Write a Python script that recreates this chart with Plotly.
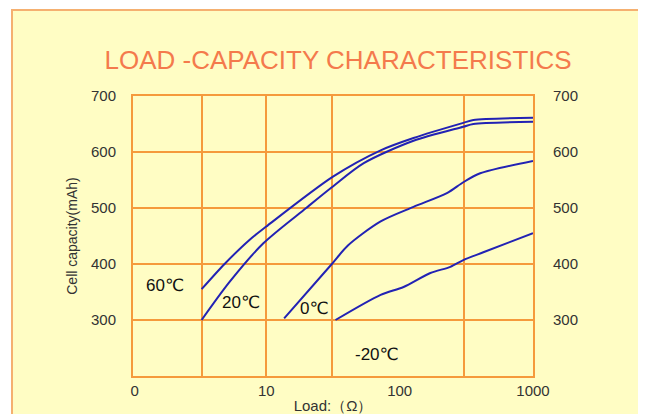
import math
import plotly.graph_objects as go

# ---- data ----
load_60 = [3.27, 4.86, 7.47, 10, 31.6, 72, 127, 300, 357, 1000]
cap_60 = [355, 400, 443, 467, 556, 603, 625, 652, 657, 661]

load_20 = [3.27, 5.3, 9.5, 19.9, 31, 53.8, 127, 300, 357, 1000]
cap_20 = [300, 368, 437, 500, 537, 580, 620, 645, 650, 654]

load_0 = [13.6, 31, 40.9, 72, 127, 228, 300, 402, 1000]
cap_0 = [303, 400, 433, 476, 502, 527, 546, 562, 584]

load_m20 = [33, 72, 107, 170, 240, 300, 424, 1000]
cap_m20 = [300, 345, 359, 384, 395, 407, 421, 455]

series_names = ["60℃", "20℃", "0℃", "-20℃"]
label_load = [1.21, 4.46, 17.3, 44.6]
label_cap = [362, 332, 321, 238]

x_tick_vals = [1.03, 10, 100, 1000]
x_tick_text = ["0", "10", "100", "1000"]
x_grid_vals = [3.27, 10, 31, 305]
y_tick_vals = [300, 400, 500, 600, 700]

BG = "#FFFDC4"
GRID = "#F59A3C"
LINE = "#2222B4"
FONT = "Liberation Sans Narrow, Liberation Sans, Arial, sans-serif"

fig = go.Figure()
for xs, ys, nm in zip([load_60, load_20, load_0, load_m20],
                      [cap_60, cap_20, cap_0, cap_m20], series_names):
    fig.add_trace(go.Scatter(x=xs, y=ys, mode="lines", name=nm,
                             line=dict(color=LINE, width=2, shape="spline", smoothing=0.8),
                             showlegend=False))

# invisible trace for the right y axis
fig.add_trace(go.Scatter(x=[10], y=[500], yaxis="y2", mode="markers",
                         marker=dict(opacity=0), showlegend=False, hoverinfo="skip"))
# invisible trace for the grid x axis
fig.add_trace(go.Scatter(x=[10], y=[500], xaxis="x2", mode="markers",
                         marker=dict(opacity=0), showlegend=False, hoverinfo="skip"))

for nm, lx, ly in zip(series_names, label_load, label_cap):
    fig.add_annotation(x=math.log10(lx), y=ly, xref="x", yref="y", text=nm, showarrow=False,
                       xanchor="left", yanchor="middle",
                       font=dict(family="Liberation Sans, DejaVu Sans, sans-serif", size=17,
                                 color="#111111"))

# outer framed panel
fig.add_shape(type="rect", xref="paper", yref="paper",
              x0=-0.3025, x1=1.275, y0=-0.35, y1=1.307,
              fillcolor=BG, line=dict(color="#F5B070", width=2), layer="below")

fig.update_layout(
    width=646, height=414,
    margin=dict(l=125, r=121, t=88, b=46, autoexpand=False),
    paper_bgcolor="white", plot_bgcolor=BG,
    title=dict(text="LOAD -CAPACITY CHARACTERISTICS", x=0.511, xref="container",
               y=0.874, yref="container", xanchor="center", yanchor="middle",
               font=dict(family=FONT, size=26, color="#F47A4C")),
    font=dict(family=FONT, size=15, color="#333333"),
    xaxis=dict(type="log", range=[0, 3], tickvals=x_tick_vals, ticktext=x_tick_text,
               automargin=False,
               showgrid=False, zeroline=False, showline=True, linecolor=GRID, linewidth=2,
               mirror=True, ticks="",
               title=dict(text="Load:（Ω）", standoff=2,
                          font=dict(family=FONT, size=15, color="#333333"))),
    xaxis2=dict(type="log", range=[0, 3], overlaying="x", tickvals=x_grid_vals,
                automargin=False,
                showticklabels=False, showgrid=True, gridcolor=GRID, gridwidth=2,
                zeroline=False, showline=False, ticks=""),
    yaxis=dict(range=[200, 700], tickvals=y_tick_vals, showgrid=True, gridcolor=GRID,
               automargin=False,
               gridwidth=2, zeroline=False, showline=True, linecolor=GRID, linewidth=2,
               mirror=True, ticks="outside", ticklen=12, tickcolor="rgba(0,0,0,0)",
               title=dict(text="Cell capacity(mAh)", standoff=10,
                          font=dict(family=FONT, size=14, color="#333333"))),
    yaxis2=dict(range=[200, 700], tickvals=y_tick_vals, overlaying="y", side="right",
                automargin=False,
                showgrid=False, zeroline=False, showline=False,
                ticks="outside", ticklen=16, tickcolor="rgba(0,0,0,0)"),
)

fig.write_html("out.html")
